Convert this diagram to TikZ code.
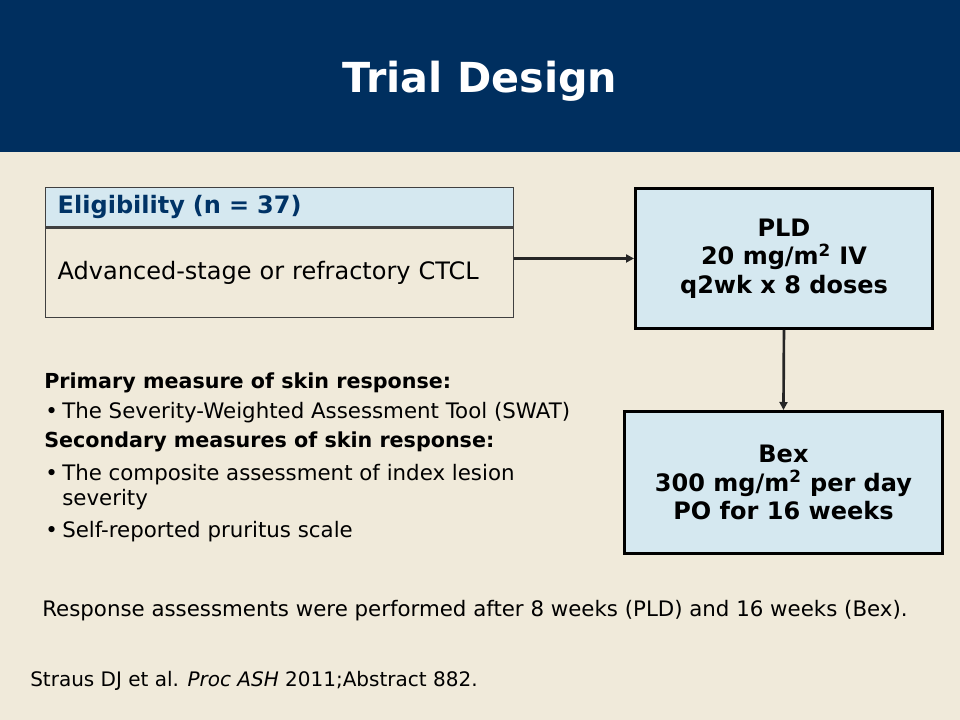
\documentclass[tikz,border=0pt]{standalone}
\usepackage{fontspec}
\setmainfont{DejaVu Sans}
\usepackage{xcolor}
\usetikzlibrary{positioning,calc,arrows.meta}

\definecolor{navy}{RGB}{0,47,95}
\definecolor{cream}{RGB}{240,234,218}
\definecolor{paleblue}{RGB}{213,232,240}
\definecolor{headblue}{RGB}{0,51,102}

\tikzset{
	drugbox/.style={draw=black, line width=2.2pt, fill=paleblue, align=center, inner sep=0pt,
		font=\fontsize{18}{21.5}\selectfont\bfseries},
	eligbox/.style={draw=black!75, line width=1.1pt, anchor=north west, text width=333pt,
		inner xsep=9pt, inner ysep=0pt, align=left},
	flow/.style={line width=2pt, draw=black!85, -{Triangle[length=6pt,width=6pt]}},
	listtext/.style={anchor=west, inner sep=0pt, font=\fontsize{16}{19}\selectfont},
}

\begin{document}
\begin{tikzpicture}[x=0.75pt,y=-0.75pt]
	% Nền và tiêu đề
	\fill[cream] (0,0) rectangle (960,720);
	\fill[navy] (0,0) rectangle (960,152);
	\useasboundingbox (0,0) rectangle (960,720);
	\node[text=white, font=\fontsize{31}{37}\selectfont\bfseries] (title) at (480,81) {Trial Design};
	
	% Hộp điều kiện
	\node[eligbox, fill=paleblue, minimum height=29.25pt, text=headblue,
		font=\fontsize{18}{21}\selectfont\bfseries] (eligHead) at (45,187) {Eligibility (n = 37)};
	\node[eligbox, anchor=north, minimum height=67pt,
		font=\fontsize{18}{21}\selectfont] (eligBody) at (eligHead.south) {Advanced-stage or refractory CTCL};
	
	% Hai nhánh điều trị
	\node[drugbox, anchor=north west, minimum width=222.75pt, minimum height=105pt] (pld) at (634,187)
		{PLD\\20 mg/m\textsuperscript{2} IV\\q2wk x 8 doses};
	\node[drugbox, anchor=north west, minimum width=238.5pt, minimum height=106.5pt] (bex) at (623,410)
		{Bex\\300 mg/m\textsuperscript{2} per day\\PO for 16 weeks};
	
	% Mũi tên
	\draw[flow] (eligBody.east |- pld.west) -- (pld.west);
	\draw[flow] (pld.south) -- (bex.north);
	
	% Các thước đo
	\node[listtext, font=\fontsize{15.5}{19}\selectfont\bfseries] (prim) at (44,383) {Primary measure of skin response:};
	\node[listtext, font=\fontsize{15.5}{19}\selectfont\bfseries] (sec) at (44,442) {Secondary measures of skin response:};
	\foreach \y/\name in {413/swat,475/comp,532/self} {
		\node[listtext] (dot\name) at (45,\y) {•};
	}
	\node[listtext] (swat) at (62,413) {The Severity-Weighted Assessment Tool (SWAT)};
	\node[listtext] (comp) at (62,475) {The composite assessment of index lesion};
	\node[listtext] (compb) at (62,500) {severity};
	\node[listtext] (self) at (62,532) {Self-reported pruritus scale};
	
	% Ghi chú cuối
	\node[font=\fontsize{16}{19}\selectfont] (note) at (475,611)
		{Response assessments were performed after 8 weeks (PLD) and 16 weeks (Bex).};
	\node[listtext, font=\fontsize{15}{18}\selectfont] (cite) at (30,681) {Straus DJ et al. \textit{Proc ASH} 2011;Abstract 882.};
\end{tikzpicture}
\end{document}
